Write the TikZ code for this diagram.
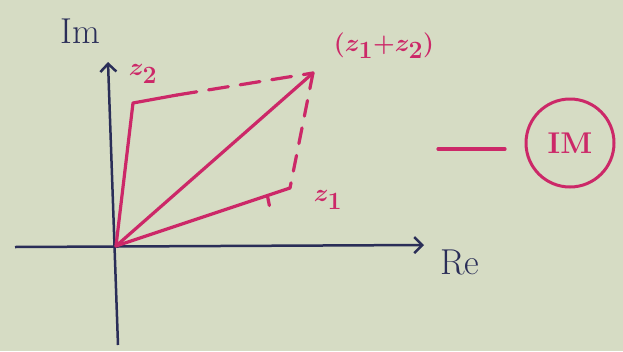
\documentclass[tikz,border=0pt]{standalone}
\usetikzlibrary{arrows.meta}

\definecolor{paper}{RGB}{214,220,196}
\definecolor{ink}{RGB}{42,46,88}
\definecolor{pen}{RGB}{204,40,104}

\begin{document}
\begin{tikzpicture}[
    x=1pt, y=-1pt,
    axis/.style={draw=ink, line width=2.5pt, -{Straight Barb[length=8pt,width=16pt,line width=2.5pt]}},
    vec/.style={draw=pen, line width=3.2pt, line cap=round, line join=round},
    guide/.style={vec, dash pattern=on 20pt off 12pt},
    lab/.style={text=pen, font=\fontsize{36}{38}\selectfont\boldmath},
    axlab/.style={text=ink, font=\fontsize{36}{38}\selectfont},
]
  % papier
  \fill[paper] (0,0) rectangle (623,351);

  % assen
  \coordinate (O) at (116,246);
  \coordinate (xl) at (15,247);
  \coordinate (xr) at (424,245);
  \coordinate (yb) at (118,345);
  \coordinate (yt) at (108,62);
  \draw[axis] (xl) -- (xr);
  \draw[axis] (yb) -- (yt);
  \node[axlab] (re) at (460,262) {Re};
  \node[axlab] (im) at (80,31) {Im};

  % vectoren
  \coordinate (z1) at (290,188);
  \coordinate (z2) at (133,103);
  \coordinate (z2h) at (177,95);
  \coordinate (s) at (313,73);
  \draw[vec] (O) -- (z1) coordinate[pos=0.87] (h1);
  \draw[vec] (h1) -- ++(2,10);
  \draw[vec] (O) -- (z2) -- (z2h);
  \draw[vec] (O) -- (s);

  % hulplijnen
  \draw[guide] (z2h) -- (s);
  \draw[guide, dash pattern=on 16pt off 12pt] (s) -- (z1);

  % labels
  \node[lab] (l1) at (328,200) {$z_1$};
  \node[lab] (l2) at (143,74) {$z_2$};
  \node[lab, font=\fontsize{38}{40}\selectfont\boldmath] (ls) at (384,46) {$(z_1{+}z_2)$};

  % rechts
  \coordinate (da) at (438,149);
  \coordinate (db) at (505,149);
  \draw[vec] (da) -- (db);
  \node[lab, font=\fontsize{30}{32}\selectfont\bfseries, draw=pen, line width=3pt, circle, minimum size=88pt, inner sep=0pt] (imc) at (570,143) {IM};
\end{tikzpicture}
\end{document}
